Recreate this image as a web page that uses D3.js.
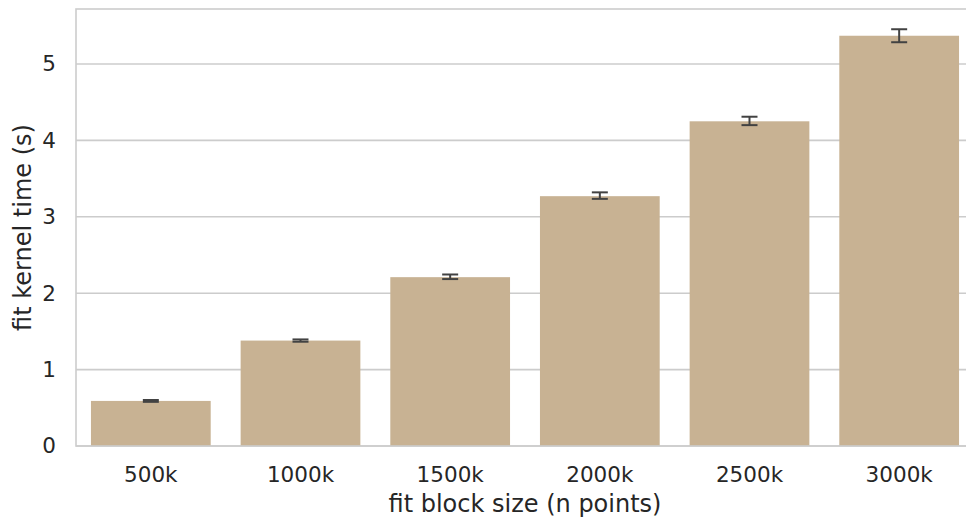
<!DOCTYPE html>
<html>
<head>
<meta charset="utf-8">
<script src="https://cdn.jsdelivr.net/npm/d3@7"></script>
<style>
  html, body { margin: 0; padding: 0; background: #fff; }
  svg { display: block; }
  text { font-family: "DejaVu Sans", sans-serif; fill: #262626; }
</style>
</head>
<body>
<svg id="chart" width="966" height="523"></svg>
<script>
// Block sizes benchmarked and the mean fit kernel time for each
const categories = ["500k", "1000k", "1500k", "2000k", "2500k", "3000k"];
const meanTime   = [0.59, 1.38, 2.21, 3.27, 4.25, 5.37];
// Confidence interval bounds around each mean
const ciLow      = [0.578, 1.365, 2.185, 3.235, 4.200, 5.285];
const ciHigh     = [0.602, 1.395, 2.245, 3.320, 4.310, 5.455];
const yTicks     = [0, 1, 2, 3, 4, 5];

const xLabel = "fit block size (n points)";
const yLabel = "fit kernel time (s)";

const svg = d3.select("#chart");
const margin = { left: 76, top: 9, right: -8, bottom: 77 };
const W = 966, H = 523;
const x0 = margin.left, x1 = W - margin.right;
const y0 = H - margin.bottom, y1 = margin.top;

const x = d3.scaleBand().domain(categories).range([x0, x1]).paddingInner(0.2).paddingOuter(0.1);
const y = d3.scaleLinear().domain([0, 5.72]).range([y0, y1]);

const gridColor = "#cccccc";

// horizontal grid lines
svg.append("g").selectAll("line").data(yTicks).join("line")
  .attr("x1", x0).attr("x2", x1)
  .attr("y1", d => y(d)).attr("y2", d => y(d))
  .attr("stroke", gridColor).attr("stroke-width", 1.6);

// bars
svg.append("g").selectAll("rect").data(categories).join("rect")
  .attr("x", d => x(d))
  .attr("width", x.bandwidth())
  .attr("y", (d, i) => y(meanTime[i]))
  .attr("height", (d, i) => y(0) - y(meanTime[i]))
  .attr("fill", "#c8b293");

// error bars with caps
const err = svg.append("g").attr("stroke", "#424242").attr("stroke-width", 2);
categories.forEach((c, i) => {
  const cx = x(c) + x.bandwidth() / 2;
  const cap = 8;
  err.append("line").attr("x1", cx).attr("x2", cx).attr("y1", y(ciLow[i])).attr("y2", y(ciHigh[i]));
  err.append("line").attr("x1", cx - cap).attr("x2", cx + cap).attr("y1", y(ciLow[i])).attr("y2", y(ciLow[i]));
  err.append("line").attr("x1", cx - cap).attr("x2", cx + cap).attr("y1", y(ciHigh[i])).attr("y2", y(ciHigh[i]));
});

// spines
const spines = svg.append("g").attr("stroke", gridColor).attr("stroke-width", 1.6).attr("fill", "none");
spines.append("rect").attr("x", x0).attr("y", y1).attr("width", x1 - x0).attr("height", y0 - y1);

// axes via d3 axis generators (no tick marks, no domain lines)
const xAxis = svg.append("g").attr("transform", `translate(0,${y0})`)
  .call(d3.axisBottom(x).tickSize(0).tickPadding(21));
xAxis.select(".domain").remove();
xAxis.selectAll("text").attr("font-size", 21.5).attr("font-family", "DejaVu Sans").attr("fill", "#262626");

const yAxis = svg.append("g").attr("transform", `translate(${x0},0)`)
  .call(d3.axisLeft(y).tickValues(yTicks).tickFormat(d3.format("d")).tickSize(0).tickPadding(20));
yAxis.select(".domain").remove();
yAxis.selectAll("text").attr("font-size", 21.5).attr("font-family", "DejaVu Sans").attr("fill", "#262626");

// axis titles
svg.append("text").attr("x", 525).attr("y", 512)
  .attr("text-anchor", "middle").attr("font-size", 24).text(xLabel);
svg.append("text")
  .attr("transform", `translate(31,${(y0 + y1) / 2}) rotate(-90)`)
  .attr("text-anchor", "middle").attr("font-size", 24).text(yLabel);
</script>
</body>
</html>
